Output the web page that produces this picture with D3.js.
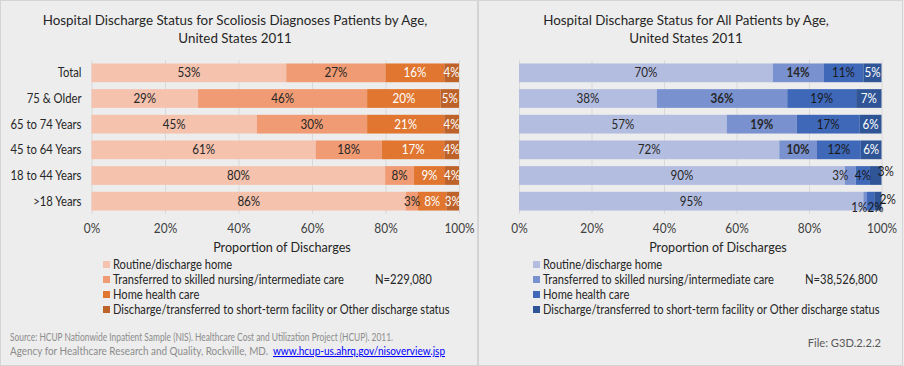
<!DOCTYPE html>
<html>
<head>
<meta charset="utf-8">
<script src="https://cdn.jsdelivr.net/npm/d3@7"></script>
<style>
  html, body { margin: 0; padding: 0; background: #EDEDED; }
  svg { display: block; font-family: Lato, "Open Sans", sans-serif; }
</style>
</head>
<body>
<svg id="chart" width="904" height="366"></svg>
<script>
// ---------- DATA ----------
const categories = ["Total", "75 & Older", "65 to 74 Years", "45 to 64 Years", "18 to 44 Years", ">18 Years"];
const seriesNames = [
  "Routine/discharge home",
  "Transferred to skilled nursing/intermediate care",
  "Home health care",
  "Discharge/transferred to short-term facility or Other discharge status"
];
// Scoliosis diagnoses (percent)
const scolRoutine     = [53, 29, 45, 61, 79.9, 85.6];
const scolTransferred = [27, 46, 30, 18, 7.8, 3.2];
const scolHomeHealth  = [16, 20, 21, 17, 8.5, 7.8];
const scolOther       = [4, 5, 4, 4, 3.8, 3.4];
// All patients (percent)
const allRoutine      = [70, 38, 57.3, 71.8, 89.9, 95];
const allTransferred  = [14, 36, 19.3, 10.4, 3.0, 1];
const allHomeHealth   = [11, 19, 17.4, 12.1, 3.9, 2];
const allOther        = [5, 7, 6.0, 5.7, 3.2, 2];

const tickValues = [0, 20, 40, 60, 80, 100];
const tickLabels = ["0%", "20%", "40%", "60%", "80%", "100%"];

const scolTitle = ["Hospital Discharge Status for Scoliosis Diagnoses Patients by Age,", "United States 2011"];
const allTitle  = ["Hospital Discharge Status for All Patients by Age,", "United States 2011"];
const axisTitle = "Proportion of Discharges";
const scolN = "N=229,080";
const allN  = "N=38,526,800";

// ---------- DRAW ----------
const svg = d3.select("#chart");
const fmt = v => Math.round(v) + "%";

// squeeze a text horizontally to mimic a narrower face
function condense(sel, f) {
  sel.each(function () {
    const w = this.getComputedTextLength();
    this.setAttribute("textLength", (w * f).toFixed(2));
    this.setAttribute("lengthAdjust", "spacingAndGlyphs");
  });
  return sel;
}
function fitTo(sel, w) {
  sel.attr("textLength", w).attr("lengthAdjust", "spacingAndGlyphs");
  return sel;
}

// panel frames
svg.append("rect").attr("x", 0.5).attr("y", 0.5).attr("width", 477).attr("height", 365)
  .attr("fill", "#EDEDED").attr("stroke", "#D4D4D4");
svg.append("rect").attr("x", 478.5).attr("y", 0.5).attr("width", 424).attr("height", 365)
  .attr("fill", "#EDEDED").attr("stroke", "#D4D4D4");

function drawPanel(cfg) {
  const g = svg.append("g");
  const x = d3.scaleLinear().domain([0, 100]).range([cfg.x0, cfg.x1]);
  const y = d3.scaleBand().domain(categories).range([60, 214]).paddingInner(0.27).paddingOuter(0.135);

  // title
  cfg.title.forEach((line, i) => {
    condense(g.append("text").attr("text-anchor", "middle").attr("fill", "#262626")
      .attr("font-size", 14).attr("x", cfg.titleX).attr("y", 25 + i * 18).text(line), 0.955);
  });

  // gridlines + tick labels via axis
  const axis = d3.axisBottom(x).tickValues(tickValues).tickFormat((d, i) => tickLabels[i])
    .tickSize(-(214 - 60)).tickPadding(10);
  const ax = g.append("g").attr("transform", "translate(0,214)").call(axis);
  ax.select(".domain").remove();
  ax.selectAll(".tick line").attr("stroke", "#D9D9D9");
  ax.selectAll(".tick text").attr("fill", "#404040").attr("font-size", 12.5)
    .attr("font-family", "Lato, sans-serif");
  condense(ax.selectAll(".tick text"), 0.95);

  // category labels (left panel only)
  if (cfg.showCategories) {
    condense(g.selectAll(".cat").data(categories).join("text")
      .attr("x", cfg.x0 - 10).attr("y", d => y(d) + y.bandwidth() / 2)
      .attr("dy", "0.35em").attr("text-anchor", "end")
      .attr("fill", "#262626").attr("font-size", 12.5)
      .text(d => d), 0.9);
  }

  // stacked data
  const rows = categories.map((c, i) => {
    const r = { cat: c };
    cfg.series.forEach((s, k) => r["s" + k] = s[i]);
    return r;
  });
  const keys = cfg.series.map((s, k) => "s" + k);
  const stacked = d3.stack().keys(keys)(rows);

  stacked.forEach((layer, k) => {
    g.append("g").selectAll("rect").data(layer).join("rect")
      .attr("x", d => x(d[0])).attr("y", d => y(d.data.cat))
      .attr("width", d => x(d[1]) - x(d[0])).attr("height", y.bandwidth())
      .attr("fill", cfg.colors[k]);
  });

  stacked.forEach((layer, k) => {
    const lbl = g.append("g").selectAll("text").data(layer).join("text")
      .each(function (d, i) {
        const key = i + "-" + k;
        const off = cfg.labelOffsets[key] || [0, 0];
        d3.select(this)
          .attr("x", (x(d[0]) + x(d[1])) / 2 + off[0])
          .attr("y", y(d.data.cat) + y.bandwidth() / 2 + off[1])
          .attr("fill", cfg.darkOutside[key] ? "#1a1a1a" : cfg.labelColors[k])
          .attr("font-weight", cfg.boldSeries === k && (d[1] - d[0]) >= 10 ? 700 : 400);
      })
      .attr("dy", "0.35em").attr("text-anchor", "middle").attr("font-size", 12.5)
      .text(d => fmt(d[1] - d[0]));
    condense(lbl, 0.93);
  });

  // axis title
  condense(g.append("text").attr("x", cfg.axisTitleX).attr("y", 252).attr("text-anchor", "middle")
    .attr("fill", "#262626").attr("font-size", 13).text(axisTitle), 0.97);

  // legend
  const lg = g.append("g");
  seriesNames.forEach((name, k) => {
    const yy = 265 + k * 15;
    lg.append("rect").attr("x", cfg.legendX).attr("y", yy - 4).attr("width", 7).attr("height", 7)
      .attr("fill", cfg.colors[k]);
    condense(lg.append("text").attr("x", cfg.legendX + 10).attr("y", yy).attr("dy", "0.35em")
      .attr("fill", "#262626").attr("font-size", 12.5).text(name), 0.89);
  });
  condense(g.append("text").attr("x", cfg.nX).attr("y", 280).attr("dy", "0.35em")
    .attr("fill", "#262626").attr("font-size", 12.5).text(cfg.nText), 0.9);
}

drawPanel({
  x0: 91.5, x1: 459, titleX: 235, axisTitleX: 282, legendX: 103, nX: 375,
  title: scolTitle, nText: scolN, showCategories: true,
  series: [scolRoutine, scolTransferred, scolHomeHealth, scolOther],
  colors: ["#F5C2AE", "#F09B73", "#E0762F", "#BD6229"],
  labelColors: ["#262626", "#262626", "#FFFFFF", "#FFFFFF"],
  labelOffsets: {}, darkOutside: {}, boldSeries: -1
});

drawPanel({
  x0: 519, x1: 881.5, titleX: 686, axisTitleX: 718, legendX: 533, nX: 805,
  title: allTitle, nText: allN, showCategories: false,
  series: [allRoutine, allTransferred, allHomeHealth, allOther],
  colors: ["#B3BDE0", "#7991CF", "#3F68B8", "#2F5597"],
  labelColors: ["#262626", "#262626", "#1a1a1a", "#FFFFFF"],
  labelOffsets: { "4-1": [-10, 0], "4-3": [10, -4], "5-1": [-6, 6], "5-2": [5, 6], "5-3": [10, -2] },
  darkOutside: { "4-3": true, "5-3": true },
  boldSeries: 1
});

// source note
fitTo(svg.append("text").attr("fill", "#8C8C8C").attr("font-size", 10.5)
  .attr("x", 10).attr("y", 341)
  .text("Source: HCUP Nationwide Inpatient Sample (NIS). Healthcare Cost and Utilization Project (HCUP). 2011."), 383);
fitTo(svg.append("text").attr("fill", "#8C8C8C").attr("font-size", 10.5)
  .attr("x", 10).attr("y", 355)
  .text("Agency for Healthcare Research and Quality, Rockville, MD."), 258);
fitTo(svg.append("text").attr("fill", "#0000FF").attr("text-decoration", "underline")
  .attr("font-size", 10.5).attr("x", 273).attr("y", 355)
  .text("www.hcup-us.ahrq.gov/nisoverview.jsp"), 172);

condense(svg.append("text").attr("x", 881).attr("y", 347).attr("text-anchor", "end")
  .attr("fill", "#595959").attr("font-size", 12).text("File: G3D.2.2.2"), 0.93);
</script>
</body>
</html>
